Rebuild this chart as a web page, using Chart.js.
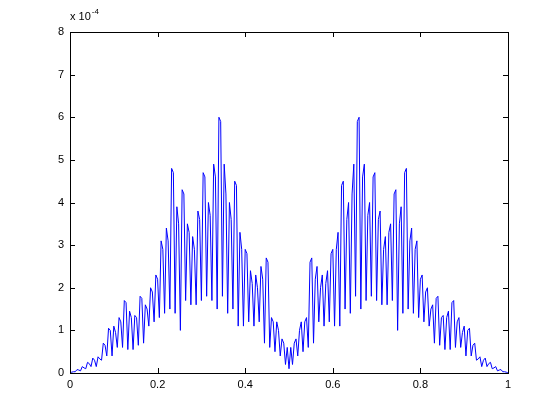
<!DOCTYPE html>
<html>
<head>
<meta charset="utf-8">
<script src="https://cdn.jsdelivr.net/npm/chart.js@4"></script>
<style>
  body { margin: 0; background: #fff; }
  #wrap { width: 560px; height: 420px; }
</style>
</head>
<body>
<div id="wrap"><canvas id="plot" width="560" height="420"></canvas></div>
<script>
// values in units of 1e-4 (left half 0..0.5)
const leftVals = [
  0.00, 0.02, 0.03,  0.03, 0.08, 0.07,  0.05, 0.15, 0.12,  0.10, 0.25, 0.22,
  0.15, 0.35, 0.30,  0.15, 0.38, 0.33,  0.30, 0.70, 0.65,  0.40, 1.05, 1.00,
  0.40, 1.10, 0.95,  0.60, 1.30, 1.20,  0.60, 1.70, 1.65,  0.55, 1.45, 1.30,
  0.55, 1.35, 1.30,  0.65, 1.80, 1.75,  0.70, 1.60, 1.50,  1.10, 2.00, 1.90,
  1.20, 2.30, 2.20,  1.30, 3.10, 2.90,  1.40, 3.40, 3.10,  1.50, 4.80, 4.70,
  1.40, 3.90, 3.50,  1.00, 4.30, 4.20,  1.70, 3.50, 3.30,  1.60, 3.20, 2.90,
  1.60, 3.80, 3.60,  1.70, 4.70, 4.60,  1.80, 4.00, 3.70,  1.70, 4.90, 4.60,
  1.50, 6.00, 5.90,  1.80, 4.90, 4.20,  1.40, 4.00, 3.60,  1.50, 4.50, 4.40,
  1.10, 3.30, 2.90,  1.10, 2.90, 2.80,  1.20, 2.40, 2.10,  1.10, 2.30, 2.00,
  1.20, 2.50, 2.20,  0.70, 2.70, 2.60,  0.60, 1.30, 1.20,  0.50, 1.20, 1.00,
  0.40, 0.80, 0.70,  0.20, 0.60, 0.10
];

// right half 0.504..1
const rightVals = [
  0.60, 0.20,
  0.70, 0.80, 0.40,  1.00, 1.20, 0.50,  1.20, 1.30, 0.60,  2.60, 2.70, 0.70,
  2.20, 2.50, 1.20,  2.00, 2.30, 1.10,  2.10, 2.40, 1.20,  2.80, 2.90, 1.10,
  2.90, 3.30, 1.10,  4.40, 4.50, 1.50,  3.60, 4.00, 1.40,  4.20, 4.90, 1.80,
  5.90, 6.00, 1.50,  4.60, 4.90, 1.70,  3.70, 4.00, 1.80,  4.60, 4.70, 1.70,
  3.60, 3.80, 1.60,  2.90, 3.20, 1.60,  3.30, 3.50, 1.70,  4.20, 4.30, 1.00,
  3.50, 3.90, 1.40,  4.70, 4.80, 1.50,  3.10, 3.40, 1.40,  2.90, 3.10, 1.30,
  2.20, 2.30, 1.20,  1.90, 2.00, 1.10,  1.50, 1.60, 0.70,  1.75, 1.80, 0.65,
  1.30, 1.35, 0.55,  1.30, 1.45, 0.55,  1.65, 1.70, 0.60,  1.20, 1.30, 0.60,
  0.95, 1.10, 0.40,  1.00, 1.05, 0.40,  0.65, 0.70, 0.30,  0.33, 0.38, 0.15,
  0.30, 0.35, 0.15,  0.22, 0.25, 0.10,  0.12, 0.15, 0.05,  0.07, 0.08, 0.03,
  0.03, 0.02, 0.00
];

const xTickLabels = ['0', '0.2', '0.4', '0.6', '0.8', '1'];
const yTickLabels = ['0', '1', '2', '3', '4', '5', '6', '7', '8'];

const ys = leftVals.concat(rightVals);
const points = ys.map((v, i) => ({ x: i / (ys.length - 1), y: v }));

const FONT = '"Liberation Sans", Arial, sans-serif';

// box around the axes, inward ticks on all four sides, and the x 10^-4 note
const matlabAxes = {
  id: 'matlabAxes',
  afterDraw(chart) {
    const { ctx, chartArea: a, scales } = chart;
    ctx.save();
    ctx.strokeStyle = '#000';
    ctx.lineWidth = 1;
    ctx.strokeRect(Math.round(a.left) + 0.5, Math.round(a.top) + 0.5,
      Math.round(a.right - a.left), Math.round(a.bottom - a.top));
    ctx.beginPath();
    scales.x.ticks.forEach(t => {
      const px = Math.round(scales.x.getPixelForValue(t.value)) + 0.5;
      ctx.moveTo(px, a.bottom); ctx.lineTo(px, a.bottom - 5);
      ctx.moveTo(px, a.top); ctx.lineTo(px, a.top + 5);
    });
    scales.y.ticks.forEach(t => {
      const py = Math.round(scales.y.getPixelForValue(t.value)) + 0.5;
      ctx.moveTo(a.left, py); ctx.lineTo(a.left + 5, py);
      ctx.moveTo(a.right, py); ctx.lineTo(a.right - 5, py);
    });
    ctx.stroke();

    ctx.fillStyle = '#000';
    ctx.textBaseline = 'alphabetic';
    ctx.font = '11px ' + FONT;
    ctx.fillText('x 10', a.left, a.top - 12);
    const w = ctx.measureText('x 10').width;
    ctx.font = '8px ' + FONT;
    ctx.fillText('-4', a.left + w + 1, a.top - 18);
    ctx.restore();
  }
};

new Chart(document.getElementById('plot'), {
  type: 'line',
  data: {
    datasets: [{
      data: points,
      borderColor: '#0000ff',
      borderWidth: 1,
      pointRadius: 0,
      tension: 0,
      fill: false
    }]
  },
  options: {
    responsive: false,
    animation: false,
    layout: { padding: { left: 40, top: 32, right: 52, bottom: 27 } },
    plugins: { legend: { display: false }, tooltip: { enabled: false } },
    scales: {
      x: {
        type: 'linear',
        min: 0, max: 1,
        afterFit: s => { s.height = 20; },
        grid: { display: false, drawTicks: false },
        border: { display: false },
        ticks: {
          stepSize: 0.2,
          padding: 5,
          color: '#000',
          font: { family: FONT, size: 11 },
          maxRotation: 0,
          callback: (v, i) => xTickLabels[i]
        }
      },
      y: {
        min: 0, max: 8,
        afterFit: s => { s.width = 30; },
        grid: { display: false, drawTicks: false },
        border: { display: false },
        ticks: {
          stepSize: 1,
          padding: 6,
          color: '#000',
          font: { family: FONT, size: 11 },
          callback: (v, i) => yTickLabels[i]
        }
      }
    }
  },
  plugins: [matlabAxes]
});
</script>
</body>
</html>
